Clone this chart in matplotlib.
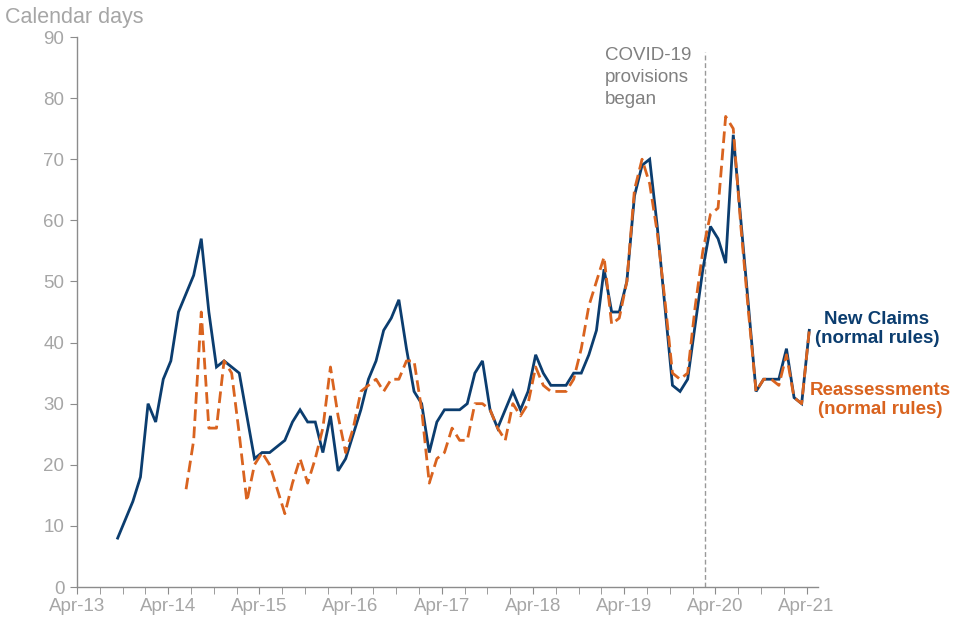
import matplotlib
matplotlib.use("Agg")
import matplotlib.pyplot as plt
import numpy as np

plt.rcParams['font.family'] = ['Liberation Sans', 'DejaVu Sans']

# Month index: 0 = Apr-13
new_start = 5  # Sep-13
new_claims = [8, 11, 14, 18, 30, 27, 34, 37, 45, 48, 51, 57, 45, 36, 37, 36, 35, 28, 21,
              22, 22, 23, 24, 27, 29, 27, 27, 22, 28, 19, 21, 25, 29, 34, 37, 42, 44, 47,
              39, 32, 30, 22, 27, 29, 29, 29, 30, 35, 37, 29, 26, 29, 32, 29, 32, 38, 35,
              33, 33, 33, 35, 35, 38, 42, 52, 45, 45, 50, 64, 69, 70, 59, 46, 33, 32, 34,
              43, 52, 59, 57, 53, 74, 60, 46, 32, 34, 34, 34, 39, 31, 30, 42]
reass_start = 14  # Jun-14
reassessments = [16, 24, 45, 26, 26, 37, 35, 25, 14, 20, 22, 20, 16, 12, 17, 21, 17, 21,
                 26, 36, 28, 22, 26, 32, 33, 34, 32, 34, 34, 37, 37, 29, 17, 21, 22, 26,
                 24, 24, 30, 30, 29, 26, 24, 30, 28, 30, 36, 33, 32, 32, 32, 34, 39, 46,
                 50, 54, 43, 44, 50, 65, 70, 66, 58, 47, 35, 34, 35, 46, 55, 61, 62, 77,
                 75, 59, 45, 32, 34, 34, 33, 38, 31, 30, 42]
tick_labels = ['Apr-13', 'Apr-14', 'Apr-15', 'Apr-16', 'Apr-17', 'Apr-18', 'Apr-19',
               'Apr-20', 'Apr-21']
covid_month = 82.6

BLUE = '#0b3d6f'
ORANGE = '#d9631f'
TICK_GREY = '#a6a6a6'
SPINE_GREY = '#8c8c8c'

fig = plt.figure(figsize=(9.6, 6.4), dpi=100)
ax = fig.add_axes([77/960, 1 - 587/640, (818 - 77)/960, (587 - 37)/640])

off = 0.35
xn = np.arange(len(new_claims)) + new_start + off
xr = np.arange(len(reassessments)) + reass_start + off
ax.plot(xn, new_claims, color=BLUE, lw=2.0, solid_joinstyle='miter', zorder=3)
ax.plot(xr, reassessments, color=ORANGE, lw=2.0, dashes=(4.2, 2.0), zorder=4)

ax.axvline(covid_month, ymin=0, ymax=87.5/90, color='#999999', lw=1.0,
           dashes=(3.5, 2.0), zorder=2)
ax.text(69.5, 88.3, 'COVID-19\nprovisions\nbegan', color='#808080', fontsize=13.5,
        ha='left', va='top', linespacing=1.38)

ax.set_xlim(0, 97.5)
ax.set_ylim(0, 90)
ax.set_yticks(np.arange(0, 91, 10))
ax.set_xticks(np.arange(0, 97, 12))
ax.set_xticklabels(tick_labels)
ax.set_xticks(np.arange(0, 97, 3), minor=True)

for s in ['top', 'right']:
    ax.spines[s].set_visible(False)
for s in ['left', 'bottom']:
    ax.spines[s].set_color(SPINE_GREY)
    ax.spines[s].set_linewidth(1.0)

ax.tick_params(axis='both', which='both', colors=SPINE_GREY, direction='out',
               labelcolor=TICK_GREY, labelsize=13.5)
ax.tick_params(axis='y', length=5, pad=4)
ax.tick_params(axis='x', which='both', length=5, pad=3)

fig.text(5/960, 1 - 17/640, 'Calendar days', color=TICK_GREY, fontsize=15.5,
         ha='left', va='center')
fig.text(877/960, 1 - 329/640, 'New Claims\n(normal rules)', color=BLUE, fontsize=13.5,
         fontweight='bold', ha='center', va='center', linespacing=1.2)
fig.text(880/960, 1 - 400/640, 'Reassessments\n(normal rules)', color=ORANGE,
         fontsize=13.5, fontweight='bold', ha='center', va='center', linespacing=1.2)

fig.savefig('out.png', dpi=100)
